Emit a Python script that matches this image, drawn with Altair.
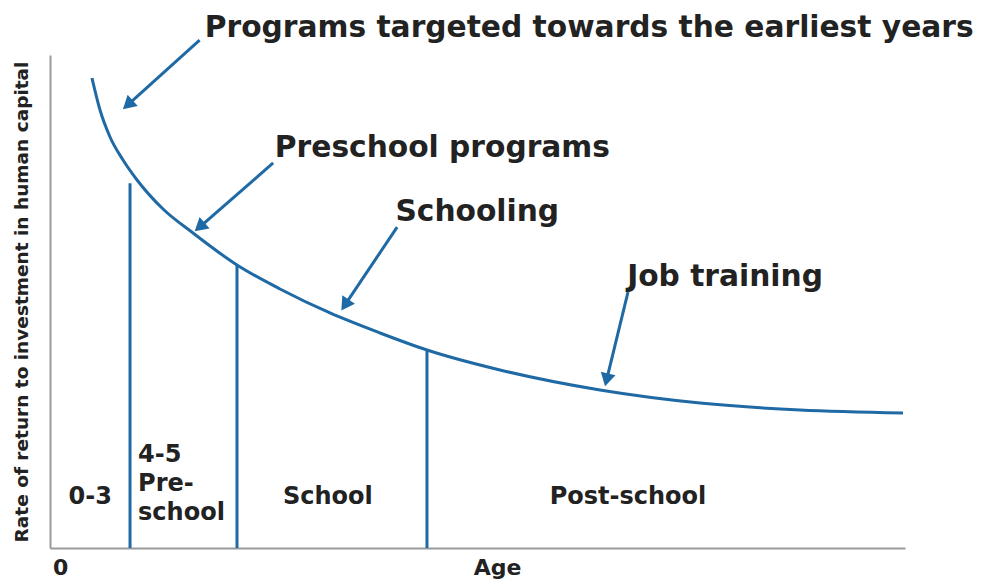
import math
import altair as alt
import pandas as pd

# ---- data (age: 0-100, rate: 0-100 arbitrary units) ----
curve_age = [4.91, 5.85, 7.02, 8.54, 10.18, 13.22, 16.73, 21.87, 26.90, 32.75, 38.60, 44.09,
             52.63, 64.33, 76.02, 87.72, 99.77]
curve_rate = [95.33, 88.84, 83.37, 78.70, 74.65, 68.76, 63.89, 57.40, 52.54, 47.67, 43.61, 40.16,
              36.11, 32.05, 29.41, 27.99, 27.38]

divider_age = [9.36, 21.87, 44.09]
divider_top = [74.0, 57.4, 40.2]

stage_labels = ["0-3", "4-5\nPre-\nschool", "School", "Post-school"]
stage_age = [4.7, 10.3, 32.5, 67.6]
stage_rate = [10.3, 18.9, 10.3, 10.3]
stage_align = ["center", "left", "center", "center"]

note_labels = ["Programs targeted towards the earliest years", "Preschool programs",
               "Schooling", "Job training"]
note_age = [18.1, 26.3, 40.4, 67.5]
note_rate = [105.5, 81.1, 68.2, 55.0]

arrow_age_from = [17.5, 26.1, 40.6, 67.6]
arrow_rate_from = [103.0, 78.1, 65.1, 51.9]
arrow_age_to = [9.1, 17.5, 34.5, 65.1]
arrow_rate_to = [89.9, 65.1, 49.3, 34.1]

x_tick_pos = [1.2]
x_tick_text = "0"

W, H = 855, 493
BLUE = "#1f6aa5"
TEXT = "#222222"
FONT = "DejaVu Sans"

x_scale = alt.Scale(domain=[0, 100], nice=False, zero=False)
y_scale = alt.Scale(domain=[0, 100], nice=False, zero=False)

curve_df = pd.DataFrame({"age": curve_age, "rate": curve_rate})
div_df = pd.DataFrame({"age": divider_age, "top": divider_top, "bottom": [0] * 3})
stage_df = pd.DataFrame({"label": stage_labels, "age": stage_age, "rate": stage_rate, "align": stage_align})
note_df = pd.DataFrame({"label": note_labels, "age": note_age, "rate": note_rate})

px_x = W / 100.0
px_y = H / 100.0
angles = []
for a0, r0, a1, r1 in zip(arrow_age_from, arrow_rate_from, arrow_age_to, arrow_rate_to):
    dx = (a1 - a0) * px_x
    dy = -(r1 - r0) * px_y
    angles.append(math.degrees(math.atan2(dx, -dy)) % 360)
arrow_df = pd.DataFrame({"a0": arrow_age_from, "r0": arrow_rate_from,
                         "a1": arrow_age_to, "r1": arrow_rate_to, "angle": angles})

base_x = alt.X("age:Q", scale=x_scale,
               axis=alt.Axis(values=x_tick_pos, labelExpr=f"'{x_tick_text}'", ticks=False, grid=False,
                             domainColor="#9a9a9a", domainWidth=2, labelFont=FONT, labelFontSize=22,
                             labelFontWeight="bold", labelColor=TEXT, labelBaseline="middle",
                             labelPadding=19, title="Age", titleFont=FONT, titleFontSize=22,
                             titleFontWeight="bold", titleColor=TEXT, titleBaseline="middle",
                             titleAlign="center", titleX=447, titleY=19))
base_y = alt.Y("rate:Q", scale=y_scale,
               axis=alt.Axis(labels=False, ticks=False, grid=False, domainColor="#9a9a9a",
                             domainWidth=2, title="Rate of return to investment in human capital",
                             titleFont=FONT, titleFontSize=18.5, titleFontWeight="bold",
                             titleColor=TEXT, titlePadding=19))

curve = alt.Chart(curve_df).mark_line(color=BLUE, strokeWidth=3, interpolate="monotone").encode(
    x=base_x, y=base_y)

dividers = alt.Chart(div_df).mark_rule(color=BLUE, strokeWidth=3).encode(
    x=alt.X("age:Q", scale=x_scale), y=alt.Y("bottom:Q", scale=y_scale), y2="top:Q")

stages_c = alt.Chart(stage_df[stage_df["align"] == "center"]).mark_text(
    font=FONT, fontSize=24, fontWeight="bold", color=TEXT, align="center", baseline="middle"
).encode(x=alt.X("age:Q", scale=x_scale), y=alt.Y("rate:Q", scale=y_scale), text="label:N")

stages_l = alt.Chart(stage_df[stage_df["align"] == "left"]).mark_text(
    font=FONT, fontSize=24, fontWeight="bold", color=TEXT, align="left", baseline="middle",
    lineBreak="\n", lineHeight=29
).encode(x=alt.X("age:Q", scale=x_scale), y=alt.Y("rate:Q", scale=y_scale), text="label:N")

notes = alt.Chart(note_df).mark_text(
    font=FONT, fontSize=29.7, fontWeight="bold", color=TEXT, align="left", baseline="middle"
).encode(x=alt.X("age:Q", scale=x_scale), y=alt.Y("rate:Q", scale=y_scale), text="label:N")

arrow_lines = alt.Chart(arrow_df).mark_rule(color=BLUE, strokeWidth=3).encode(
    x=alt.X("a0:Q", scale=x_scale), y=alt.Y("r0:Q", scale=y_scale), x2="a1:Q", y2="r1:Q")

arrow_heads = alt.Chart(arrow_df).mark_point(
    shape="triangle-up", filled=True, color=BLUE, opacity=1, size=230
).encode(x=alt.X("a1:Q", scale=x_scale), y=alt.Y("r1:Q", scale=y_scale),
         angle=alt.Angle("angle:Q", scale=None))

chart = alt.layer(curve, dividers, stages_c, stages_l, notes, arrow_lines, arrow_heads).properties(
    width=W, height=H,
    autosize=alt.AutoSizeParams(type="none"),
    padding={"left": 42, "top": 47, "right": 68, "bottom": 31},
    background="white",
).configure_view(stroke=None)

chart.save("out.html", embed_options={"renderer": "svg", "actions": False})
